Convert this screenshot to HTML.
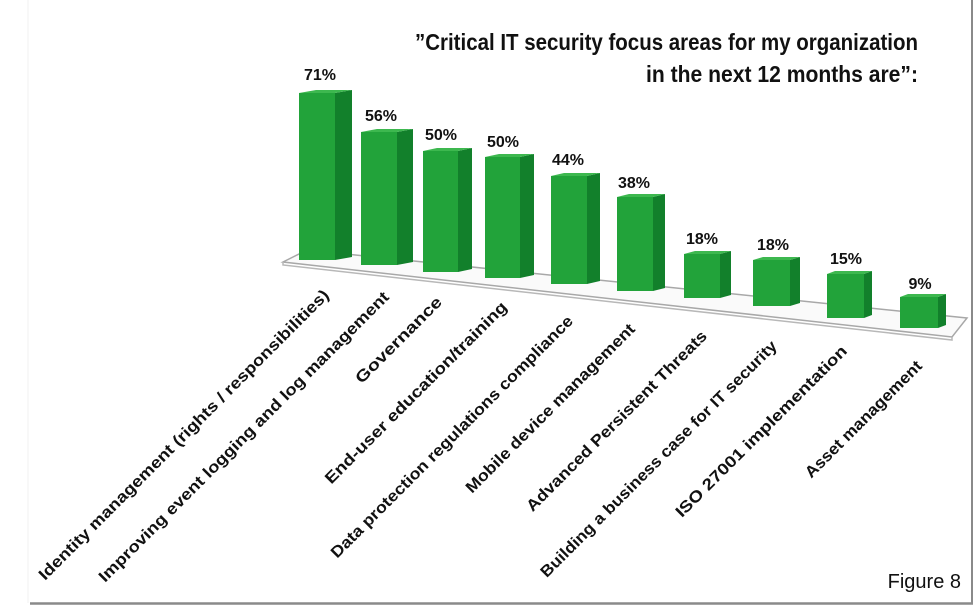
<!DOCTYPE html>
<html><head><meta charset="utf-8"><style>
html,body{margin:0;padding:0;background:#fff;}
svg{display:block;font-family:"Liberation Sans",sans-serif;}
</style></head><body>
<svg width="974" height="606" viewBox="0 0 974 606" xmlns="http://www.w3.org/2000/svg">
<rect width="974" height="606" fill="#fff"/>
<line x1="28" y1="0" x2="28" y2="603" stroke="#f0f0f0" stroke-width="1"/>
<line x1="972" y1="0" x2="972" y2="604" stroke="#8a8a8a" stroke-width="2"/>
<line x1="30" y1="603.5" x2="973" y2="603.5" stroke="#8a8a8a" stroke-width="2.5"/>
<g font-weight="bold" fill="#111" font-size="23" text-anchor="end">
<text x="918" y="50" textLength="503" lengthAdjust="spacingAndGlyphs">”Critical IT security focus areas for my organization</text>
<text x="918" y="82" textLength="272" lengthAdjust="spacingAndGlyphs">in the next 12 months are”:</text>
</g>
<!-- floor -->
<polygon points="283,262 307,250 967,318 952,337" fill="#fafafa" stroke="#a8a8a8" stroke-width="1.5"/>
<polyline points="283,262 283,265 952,340 952,337" fill="none" stroke="#b8b8b8" stroke-width="1.5"/>
<g id="bars">
<g>
<polygon points="335,93 352,90 352,257 335,260" fill="#12802b"/><polygon points="299,93 316,90 352,90 335,93" fill="#3db84f"/><rect x="299" y="93" width="36" height="167" fill="#22a33a"/>
</g>
<g>
<polygon points="397,132 413,129 413,262 397,265" fill="#12802b"/><polygon points="361,132 377,129 413,129 397,132" fill="#3db84f"/><rect x="361" y="132" width="36" height="133" fill="#22a33a"/>
</g>
<g>
<polygon points="458,151 472,148 472,269 458,272" fill="#12802b"/><polygon points="423,151 437,148 472,148 458,151" fill="#3db84f"/><rect x="423" y="151" width="35" height="121" fill="#22a33a"/>
</g>
<g>
<polygon points="520,157 534,154 534,275 520,278" fill="#12802b"/><polygon points="485,157 499,154 534,154 520,157" fill="#3db84f"/><rect x="485" y="157" width="35" height="121" fill="#22a33a"/>
</g>
<g>
<polygon points="587,176 600,173 600,281 587,284" fill="#12802b"/><polygon points="551,176 564,173 600,173 587,176" fill="#3db84f"/><rect x="551" y="176" width="36" height="108" fill="#22a33a"/>
</g>
<g>
<polygon points="653,197 665,194 665,288 653,291" fill="#12802b"/><polygon points="617,197 629,194 665,194 653,197" fill="#3db84f"/><rect x="617" y="197" width="36" height="94" fill="#22a33a"/>
</g>
<g>
<polygon points="720,254 731,251 731,295 720,298" fill="#12802b"/><polygon points="684,254 695,251 731,251 720,254" fill="#3db84f"/><rect x="684" y="254" width="36" height="44" fill="#22a33a"/>
</g>
<g>
<polygon points="790,260 800,257 800,303 790,306" fill="#12802b"/><polygon points="753,260 763,257 800,257 790,260" fill="#3db84f"/><rect x="753" y="260" width="37" height="46" fill="#22a33a"/>
</g>
<g>
<polygon points="864,274 872,271 872,315 864,318" fill="#12802b"/><polygon points="827,274 835,271 872,271 864,274" fill="#3db84f"/><rect x="827" y="274" width="37" height="44" fill="#22a33a"/>
</g>
<g>
<polygon points="938,297 946,294 946,325 938,328" fill="#12802b"/><polygon points="900,297 908,294 946,294 938,297" fill="#3db84f"/><rect x="900" y="297" width="38" height="31" fill="#22a33a"/>
</g>
</g>
<g font-weight="bold" fill="#111" font-size="16" text-anchor="middle">
<text x="320" y="80">71%</text>
<text x="381" y="121">56%</text>
<text x="441" y="140">50%</text>
<text x="503" y="147">50%</text>
<text x="568" y="165">44%</text>
<text x="634" y="188">38%</text>
<text x="702" y="244">18%</text>
<text x="773" y="250">18%</text>
<text x="846" y="264">15%</text>
<text x="920" y="289">9%</text>
</g>
<g font-weight="bold" fill="#111" font-size="16" text-anchor="end">
<text transform="translate(330,296) rotate(-45)" textLength="403" lengthAdjust="spacingAndGlyphs">Identity management (rights / responsibilities)</text>
<text transform="translate(390,298) rotate(-45)" textLength="403" lengthAdjust="spacingAndGlyphs">Improving event logging and log management</text>
<text transform="translate(443,303) rotate(-45)" textLength="115" lengthAdjust="spacingAndGlyphs">Governance</text>
<text transform="translate(508,308) rotate(-45)" textLength="250" lengthAdjust="spacingAndGlyphs">End-user education/training</text>
<text transform="translate(574,322) rotate(-45)" textLength="335" lengthAdjust="spacingAndGlyphs">Data protection regulations compliance</text>
<text transform="translate(636,330) rotate(-45)" textLength="232" lengthAdjust="spacingAndGlyphs">Mobile device management</text>
<text transform="translate(708,337) rotate(-45)" textLength="248" lengthAdjust="spacingAndGlyphs">Advanced Persistent Threats</text>
<text transform="translate(778,347) rotate(-45)" textLength="327" lengthAdjust="spacingAndGlyphs">Building a business case for IT security</text>
<text transform="translate(848,352) rotate(-45)" textLength="235" lengthAdjust="spacingAndGlyphs">ISO 27001 implementation</text>
<text transform="translate(923,367) rotate(-45)" textLength="158" lengthAdjust="spacingAndGlyphs">Asset management</text>
</g>
<text x="961" y="588" text-anchor="end" font-size="20" fill="#111">Figure 8</text>
</svg>
</body></html>
